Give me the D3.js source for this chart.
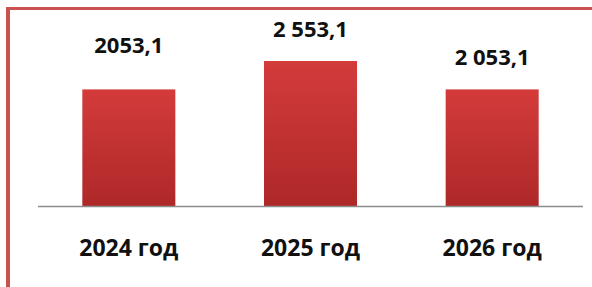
<!DOCTYPE html>
<html>
<head>
<meta charset="utf-8">
<script src="https://cdn.jsdelivr.net/npm/d3@7"></script>
<style>
  html, body { margin: 0; padding: 0; background: #fff; }
  svg { display: block; }
</style>
</head>
<body>
<svg id="chart"></svg>
<script>
var width = 592
var height = 287

// Data
var years = ["2024 год", "2025 год", "2026 год"]
var values = [2053.1, 2553.1, 2053.1]
var valueLabels = ["2053,1", "2 553,1", "2 053,1"]

// label nudges (the first label sits a bit higher in the original)
var labelDy = [-36, -24, -24]

var borderColor = "#c9524f"
var axisColor = "#8c8c8c"

var svg = d3.select("#chart")
    .attr("width", width)
    .attr("height", height)

var defs = svg.append("defs")
var grad = defs.append("linearGradient")
    .attr("id", "barGrad")
    .attr("x1", 0).attr("y1", 0).attr("x2", 0).attr("y2", 1)
grad.append("stop").attr("offset", "0%").attr("stop-color", "#d43b3b")
grad.append("stop").attr("offset", "100%").attr("stop-color", "#ae2828")

// frame (top and left edges only)
svg.append("line")
    .attr("x1", 6).attr("x2", width)
    .attr("y1", 8.5).attr("y2", 8.5)
    .style("stroke", borderColor)
    .style("stroke-width", 3)
svg.append("line")
    .attr("x1", 8).attr("x2", 8)
    .attr("y1", 7).attr("y2", height)
    .style("stroke", borderColor)
    .style("stroke-width", 4)

var x = d3.scaleBand()
    .domain(years)
    .range([38, 583])
    .paddingInner(0.488)
    .paddingOuter(0.244)

var y = d3.scaleLinear()
    .domain([0, 2553.1])
    .range([206, 61])

svg.selectAll(".bar")
    .data(values)
    .enter().append("rect")
    .attr("class", "bar")
    .attr("x", (d, i) => x(years[i]))
    .attr("y", d => y(d))
    .attr("width", x.bandwidth())
    .attr("height", d => y(0) - y(d))
    .style("fill", "url(#barGrad)")

// baseline
svg.append("line")
    .attr("x1", x.range()[0]).attr("x2", x.range()[1])
    .attr("y1", y(0) + 0.5).attr("y2", y(0) + 0.5)
    .style("stroke", axisColor)
    .style("stroke-width", 1.5)

svg.selectAll(".val")
    .data(values)
    .enter().append("text")
    .attr("class", "val")
    .attr("x", (d, i) => x(years[i]) + x.bandwidth() / 2)
    .attr("y", (d, i) => y(d) + labelDy[i])
    .attr("text-anchor", "middle")
    .style("font-family", "'Open Sans', sans-serif")
    .style("font-weight", 700)
    .style("font-size", "22px")
    .style("fill", "#111")
    .text((d, i) => valueLabels[i])

svg.selectAll(".cat")
    .data(years)
    .enter().append("text")
    .attr("class", "cat")
    .attr("x", d => x(d) + x.bandwidth() / 2)
    .attr("y", 256)
    .attr("text-anchor", "middle")
    .style("font-family", "'Open Sans', sans-serif")
    .style("font-weight", 700)
    .style("font-size", "23px")
    .style("fill", "#111")
    .text(d => d)
</script>
</body>
</html>
